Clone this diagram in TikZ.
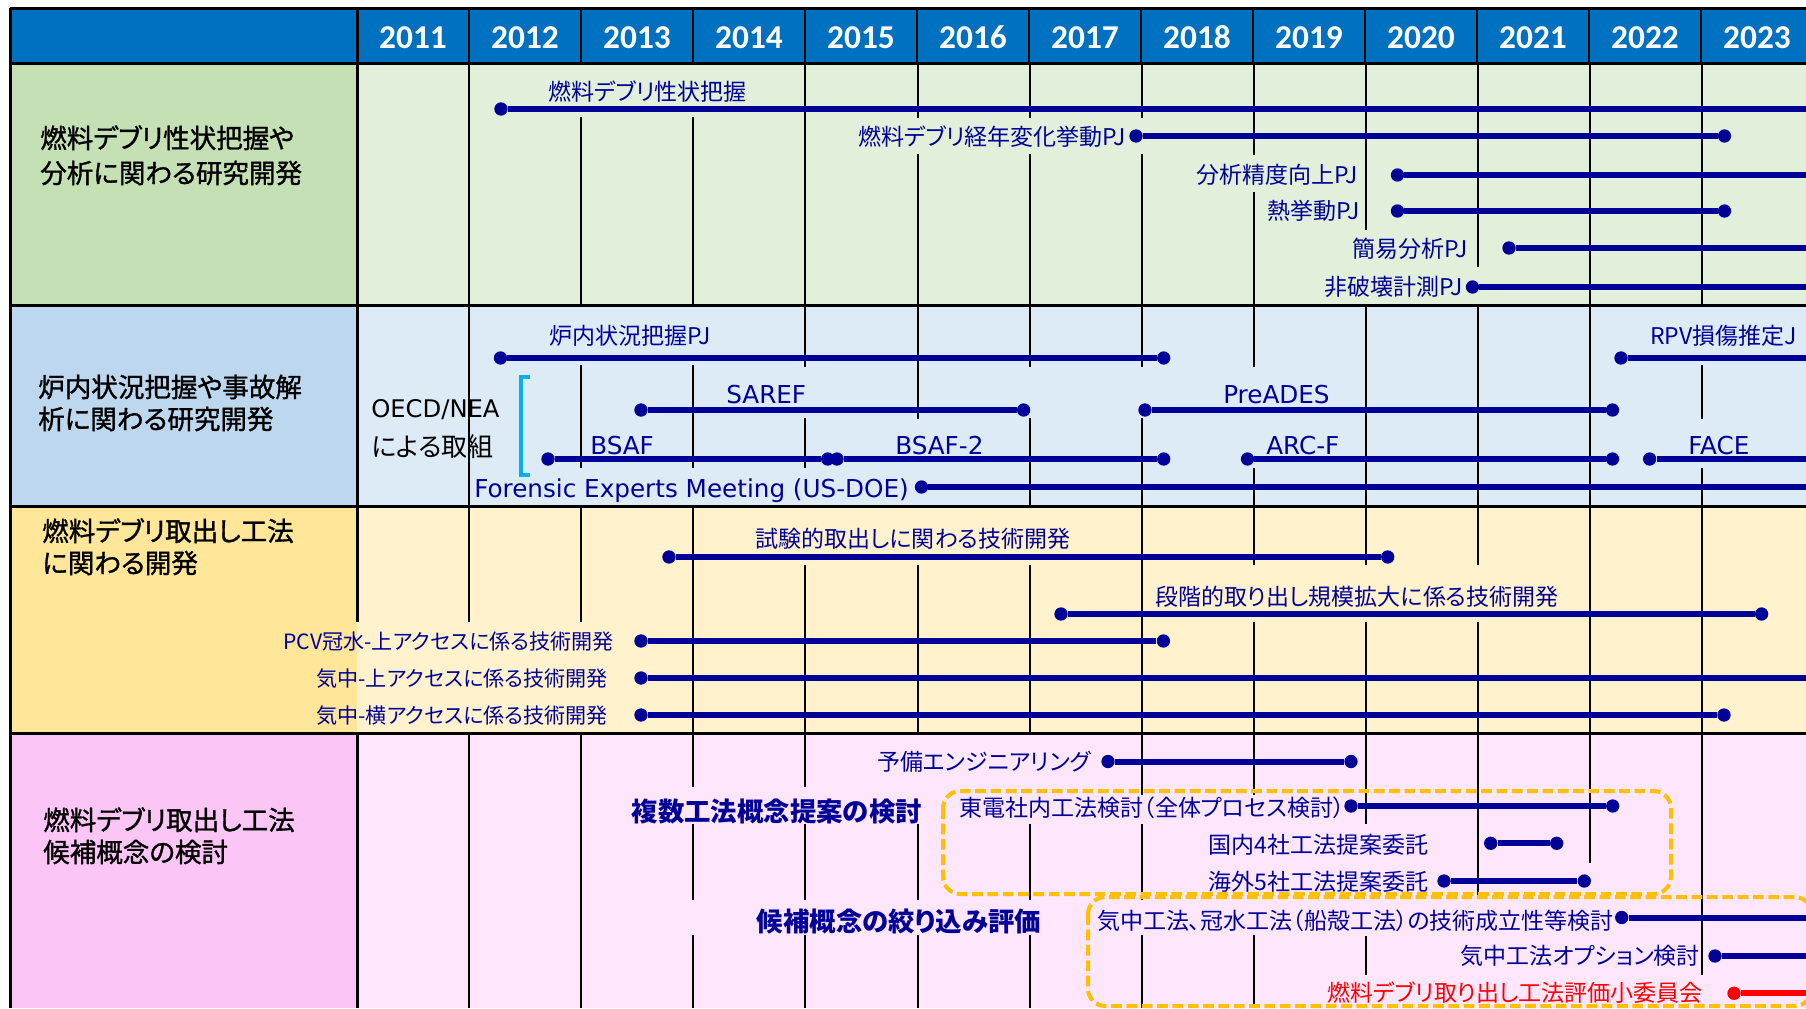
\documentclass[tikz,border=0pt]{standalone}
\usepackage{fontspec}
\setmainfont{Noto Sans CJK JP}
\newfontfamily\jpf[RawFeature=+palt]{Noto Sans CJK JP}
\newfontfamily\jpfheavy[RawFeature=+palt, FakeBold=1.2]{Noto Sans CJK JP}
\newfontfamily\latf{DejaVu Sans}
\newfontfamily\yrf{Carlito}
\definecolor{hdrblue}{RGB}{0,112,192}
\definecolor{barblue}{RGB}{0,0,153}
\definecolor{grnL}{RGB}{197,224,180}
\definecolor{grnC}{RGB}{226,239,218}
\definecolor{bluL}{RGB}{189,215,238}
\definecolor{bluC}{RGB}{221,235,247}
\definecolor{yelL}{RGB}{255,230,153}
\definecolor{yelC}{RGB}{255,242,204}
\definecolor{pnkL}{RGB}{251,198,246}
\definecolor{pnkC}{RGB}{254,230,252}
\definecolor{brkcyan}{RGB}{0,176,240}
\definecolor{dashorange}{RGB}{255,192,0}
\definecolor{redline}{RGB}{255,0,0}
\begin{document}
\begin{tikzpicture}[x=0.75pt,y=-0.75pt,
  lbl/.style={inner sep=0pt, text=barblue, font={\jpf\fontsize{17.25pt}{19pt}\selectfont}},
  smlbl/.style={inner sep=0pt, text=barblue, font={\jpf\fontsize{15.8pt}{18pt}\selectfont}},
  latlbl/.style={inner sep=0pt, text=barblue, font={\latf\fontsize{18.5pt}{20pt}\selectfont}},
  rowlbl/.style={inner sep=0pt, text=black, font={\jpfheavy\fontsize{19.9pt}{22pt}\selectfont}},
  boldlbl/.style={inner sep=0pt, text=barblue, font={\jpf\bfseries\fontsize{19.8pt}{22pt}\selectfont}},
  yearlbl/.style={inner sep=0pt, text=white, font={\yrf\bfseries\fontsize{25pt}{28pt}\selectfont}},
  dot/.style={circle, fill=barblue, inner sep=0pt, minimum size=10pt},
  reddot/.style={dot, fill=redline},
  bar/.style={draw=barblue, line width=4.5pt},
  redbar/.style={draw=redline, line width=4.5pt},
  gridline/.style={draw=black, line width=1pt},
  hdrsep/.style={draw=black, line width=1.5pt},
  border/.style={draw=black, line width=2.25pt},
  dashbox/.style={draw=dashorange, line width=3pt, dash pattern=on 8pt off 3.5pt, rounded corners=13pt},
  bracket/.style={draw=brkcyan, line width=3pt}]
\clip (0,0) rectangle (1806,1008);
\fill[white] (0,0) rectangle (1806,1008);
% backgrounds
\fill[hdrblue] (10,8) rectangle (1806,63);
\fill[grnL] (10,63) rectangle (357,305);
\fill[grnC] (357,63) rectangle (1806,305);
\fill[bluL] (10,305) rectangle (357,506);
\fill[bluC] (357,305) rectangle (1806,506);
\fill[yelL] (10,506) rectangle (357,733);
\fill[yelC] (357,506) rectangle (1806,733);
\fill[pnkL] (10,733) rectangle (357,1008);
\fill[pnkC] (357,733) rectangle (1806,1008);
% grid lines (visible parts)
\foreach \x/\ya/\yb in {469/63/305, 581/117/305, 693/117/305, 805/63/305,
  918/63/118, 918/154/305, 1030/63/118, 1030/154/305, 1142/63/118, 1142/154/305,
  1254/63/155, 1254/192/305, 1366/63/230, 1478/63/267, 1590/63/305, 1702/63/305,
  469/305/506, 581/365/468, 693/365/468, 805/305/367, 805/418/468, 918/305/419,
  1030/305/367, 1030/418/506, 1142/305/367, 1142/418/506, 1254/305/367, 1254/468/506,
  1366/305/506, 1478/305/506, 1590/305/506, 1702/365/419, 1702/468/506,
  469/506/622, 581/506/622, 693/506/733, 805/565/733, 918/565/733, 1030/565/733,
  1142/506/733, 1254/506/565, 1254/622/733, 1366/506/565, 1366/622/733,
  1478/506/565, 1478/622/733, 1590/506/733, 1702/506/733,
  469/733/1008, 581/733/1008, 693/733/787, 693/824/900, 693/935/1008,
  805/733/787, 805/824/900, 805/935/1008, 918/824/900, 918/935/1008,
  1030/824/900, 1030/935/1008, 1142/733/795, 1142/824/900, 1142/935/1008,
  1254/733/795, 1254/935/1008, 1366/733/824, 1366/936/975, 1478/733/895,
  1590/733/863, 1702/733/975}
  \draw[gridline] (\x,\ya) -- (\x,\yb);
% header separators
\foreach \i in {1,...,12} \draw[hdrsep] ({357+112*\i},8) -- ({357+112*\i},63);
% borders
\draw[border] (10,8) -- (1806,8);
\draw[border] (10,8) -- (10,1008);
\foreach \yy in {63,305,506,733} \draw[border] (10,\yy) -- (1806,\yy);
\draw[border] (357,8) -- (357,622);
\draw[border] (357,733) -- (357,1008);
% years
\foreach \yr [count=\i from 0] in {2011,...,2023}
  \node[yearlbl, anchor=base] (yr\yr) at ({413+112*\i},48) {\yr};
% row labels
\node[rowlbl, anchor=base west] (r1a) at (40,148) {燃料デブリ性状把握や};
\node[rowlbl, anchor=base west] (r1b) at (40,183) {分析に関わる研究開発};
\node[rowlbl, anchor=base west] (r2a) at (38,397) {炉内状況把握や事故解};
\node[rowlbl, anchor=base west] (r2b) at (38,429) {析に関わる研究開発};
\node[rowlbl, anchor=base west] (r3a) at (42,541) {燃料デブリ取出し工法};
\node[rowlbl, anchor=base west] (r3b) at (42,573) {に関わる開発};
\node[rowlbl, anchor=base west] (r4a) at (43,830) {燃料デブリ取出し工法};
\node[rowlbl, anchor=base west] (r4b) at (43,862) {候補概念の検討};
% dashed groups
\draw[dashbox] (943,791) rectangle (1671,894);
\draw[dashbox] (1088,897) rectangle (1812,1006);
% OECD bracket
\draw[bracket] (530,377) -- (521,377) -- (521,475) -- (530,475);
% dots
\node[dot] (a1s) at (501,109) {}; \coordinate (a1e) at (1806,109);
\node[dot] (a2s) at (1136,136) {}; \node[dot] (a2e) at (1724.5,136) {};
\node[dot] (a3s) at (1397.5,175) {}; \coordinate (a3e) at (1806,175);
\node[dot] (a4s) at (1397.5,211) {}; \node[dot] (a4e) at (1724.5,211) {};
\node[dot] (a5s) at (1509,248) {}; \coordinate (a5e) at (1806,248);
\node[dot] (a6s) at (1472.5,287) {}; \coordinate (a6e) at (1806,287);
\node[dot] (b1s) at (500.5,358) {}; \node[dot] (b1e) at (1163.7,358) {};
\node[dot] (b2s) at (1621,358) {}; \coordinate (b2e) at (1806,358);
\node[dot] (b3s) at (641,410) {}; \node[dot] (b3e) at (1023.6,410) {};
\node[dot] (b4s) at (1145,410) {}; \node[dot] (b4e) at (1612.5,410) {};
\node[dot] (b5s) at (548,459) {}; \node[dot] (b5e) at (827.7,459) {};
\node[dot] (b6s) at (837,459) {}; \node[dot] (b6e) at (1163.7,459) {};
\node[dot] (b7s) at (1247.5,459) {}; \node[dot] (b7e) at (1612.5,459) {};
\node[dot] (b8s) at (1649.6,459) {}; \coordinate (b8e) at (1806,459);
\node[dot] (b9s) at (921.5,487) {}; \coordinate (b9e) at (1806,487);
\node[dot] (c1s) at (669,557) {}; \node[dot] (c1e) at (1387.7,557) {};
\node[dot] (c2s) at (1061,614) {}; \node[dot] (c2e) at (1761.6,614) {};
\node[dot] (c3s) at (641,641) {}; \node[dot] (c3e) at (1163.4,641) {};
\node[dot] (c4s) at (641,678) {}; \coordinate (c4e) at (1806,678);
\node[dot] (c5s) at (641,715) {}; \node[dot] (c5e) at (1724,715) {};
\node[dot] (d1s) at (1108,761.5) {}; \node[dot] (d1e) at (1351,761.5) {};
\node[dot] (d2s) at (1351,806) {}; \node[dot] (d2e) at (1612.7,806) {};
\node[dot] (d3s) at (1490.7,843.3) {}; \node[dot] (d3e) at (1556.7,843.3) {};
\node[dot] (d4s) at (1444,881) {}; \node[dot] (d4e) at (1584.3,881) {};
\node[dot] (d5s) at (1621.7,917.5) {}; \coordinate (d5e) at (1806,917.5);
\node[dot] (d6s) at (1715,956) {}; \coordinate (d6e) at (1806,956);
\node[reddot] (d7s) at (1734,993.3) {}; \coordinate (d7e) at (1806,993.3);
% bars
\foreach \b in {a1,a2,a3,a4,a5,a6,b1,b2,b3,b4,b5,b6,b7,b8,b9,c1,c2,c3,c4,c5,d1,d2,d3,d4,d5,d6}
  \draw[bar] (\b s) -- (\b e);
\draw[redbar] (d7s) -- (d7e);
% labels row 1
\node[lbl, anchor=base west] (t11) at (548,100) {燃料デブリ性状把握};
\node[lbl, anchor=base east] (t12) at (1126,145) {燃料デブリ経年変化挙動PJ};
\node[lbl, anchor=base east] (t13) at (1358,183) {分析精度向上PJ};
\node[lbl, anchor=base east] (t14) at (1360,219) {熱挙動PJ};
\node[lbl, anchor=base east] (t15) at (1468,257) {簡易分析PJ};
\node[lbl, anchor=base east] (t16) at (1463,295) {非破壊計測PJ};
% labels row 2
\node[lbl, anchor=base west] (t21) at (549,344) {炉内状況把握PJ};
\node[lbl, anchor=base west] (t22) at (1650,344) {RPV損傷推定J};
\node[latlbl, anchor=base west] (t23) at (726,403) {SAREF};
\node[latlbl, anchor=base west] (t24) at (1223,403) {PreADES};
\node[latlbl, anchor=base west] (t25) at (590,454) {BSAF};
\node[latlbl, anchor=base west] (t26) at (895,454) {BSAF-2};
\node[latlbl, anchor=base west] (t27) at (1266,454) {ARC-F};
\node[latlbl, anchor=base west] (t28) at (1688,454) {FACE};
\node[latlbl, anchor=base west] (t29) at (474,497) {Forensic Experts Meeting (US-DOE)};
\node[inner sep=0pt, anchor=base west, font={\latf\fontsize{18.2pt}{20pt}\selectfont}] (oecd1) at (371,417) {OECD/NEA};
\node[inner sep=0pt, anchor=base west, font={\jpf\fontsize{19.5pt}{22pt}\selectfont}] (oecd2) at (371,456) {による取組};
% labels row 3
\node[lbl, anchor=base west] (t31) at (755,547) {試験的取出しに関わる技術開発};
\node[lbl, anchor=base west] (t32) at (1155,605) {段階的取り出し規模拡大に係る技術開発};
\node[smlbl, anchor=base east] (t33) at (614,649) {PCV冠水-上アクセスに係る技術開発};
\node[smlbl, anchor=base east] (t34) at (608,686) {気中-上アクセスに係る技術開発};
\node[smlbl, anchor=base east] (t35) at (608,723) {気中-横アクセスに係る技術開発};
% labels row 4
\node[lbl, anchor=base east] (t41) at (1091,770) {予備エンジニアリング};
\node[boldlbl, anchor=base west] (t42) at (631.5,821.5) {複数工法概念提案の検討};
\node[boldlbl, anchor=base west] (t43) at (756.6,931.5) {候補概念の絞り込み評価};
\node[lbl, anchor=base east] (t44) at (1345,816) {東電社内工法検討（全体プロセス検討）};
\node[lbl, anchor=base east] (t45) at (1429,853) {国内4社工法提案委託};
\node[lbl, anchor=base east] (t46) at (1429,890) {海外5社工法提案委託};
\node[lbl, anchor=base east] (t47) at (1614,929) {気中工法、冠水工法（船殻工法）の技術成立性等検討};
\node[lbl, anchor=base east] (t48) at (1700,964) {気中工法オプション検討};
\node[lbl, anchor=base east, text=redline] (t49) at (1703,1001) {燃料デブリ取り出し工法評価小委員会};
\end{tikzpicture}
\end{document}
